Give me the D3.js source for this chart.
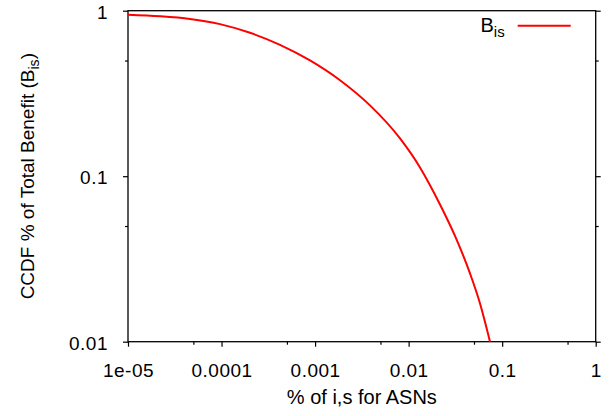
<!DOCTYPE html>
<html>
<head>
<meta charset="utf-8">
<script src="https://cdn.jsdelivr.net/npm/d3@7"></script>
<style>
  body { margin: 0; background: #fff; }
  text { font-family: "Liberation Sans", Arial, sans-serif; fill: #000; }
</style>
</head>
<body>
<div id="chart"></div>
<script>
// data (fraction of i,s vs CCDF)
var xVals = [1e-5, 2.198e-5, 4.6e-5, 9.63e-5, 2.015e-4, 4.217e-4, 8.826e-4, 1.847e-3, 3.865e-3, 8.091e-3, 1.323e-2, 2.165e-2, 3.131e-2, 4.531e-2, 5.797e-2, 7.413e-2];
var yVals = [0.9459, 0.925, 0.8909, 0.8299, 0.7355, 0.6223, 0.5008, 0.3802, 0.2678, 0.1692, 0.113, 0.0675, 0.04357, 0.02586, 0.01703, 0.01];
var xTicks = [1e-5, 1e-4, 1e-3, 1e-2, 1e-1, 1];
var xTickLabels = ["1e-05", "0.0001", "0.001", "0.01", "0.1", "1"];
var xMinor = [5e-5, 5e-4, 5e-3, 5e-2, 5e-1];
var yTicks = [0.01, 0.1, 1];
var yTickLabels = ["0.01", "0.1", "1"];
var yMinor = [0.05, 0.5];
var seriesName = "B";
var seriesSub = "is";

var svgWidth = 615, svgHeight = 416;
var margin = { top: 10.7, right: 19.3, bottom: 74.3, left: 128 };
var width = svgWidth - margin.left - margin.right;
var height = svgHeight - margin.top - margin.bottom;

var svg = d3.select("#chart").append("svg")
    .attr("width", svgWidth)
    .attr("height", svgHeight);

var g = svg.append("g")
    .attr("transform", `translate(${margin.left}, ${margin.top})`);

var x = d3.scaleLog().domain([1e-5, 1]).range([0, width]);
var y = d3.scaleLog().domain([0.01, 1]).range([height, 0]);

// bottom axis, majors with labels
var bottom = g.append("g")
    .attr("transform", `translate(0, ${height})`)
    .call(d3.axisBottom(x).tickValues(xTicks).tickSize(5)
        .tickFormat((d, i) => xTickLabels[i]));
bottom.select(".domain").remove();
bottom.selectAll("text")
    .attr("font-size", 19)
    .attr("font-family", "Liberation Sans, Arial, sans-serif")
    .attr("letter-spacing", 0.5)
    .attr("y", 35)
    .attr("dy", 0);
// bottom minor ticks
var bottomMinor = g.append("g")
    .attr("transform", `translate(0, ${height})`)
    .call(d3.axisBottom(x).tickValues(xMinor).tickSize(3).tickFormat(""));
bottomMinor.select(".domain").remove();

// left axis
var left = g.append("g")
    .call(d3.axisLeft(y).tickValues(yTicks).tickSize(5).tickPadding(15)
        .tickFormat((d, i) => yTickLabels[i]));
left.select(".domain").remove();
left.selectAll("text")
    .attr("font-size", 19)
    .attr("font-family", "Liberation Sans, Arial, sans-serif")
    .attr("letter-spacing", 0.5)
    .attr("dy", "0.39em");
var leftMinor = g.append("g")
    .call(d3.axisLeft(y).tickValues(yMinor).tickSize(3).tickFormat(""));
leftMinor.select(".domain").remove();

// right axis (mirror ticks, outward, no labels)
var right = g.append("g")
    .attr("transform", `translate(${width}, 0)`)
    .call(d3.axisRight(y).tickValues(yTicks).tickSize(5).tickFormat(""));
right.select(".domain").remove();
var rightMinor = g.append("g")
    .attr("transform", `translate(${width}, 0)`)
    .call(d3.axisRight(y).tickValues(yMinor).tickSize(3).tickFormat(""));
rightMinor.select(".domain").remove();

g.selectAll(".tick line").attr("stroke", "#000").attr("stroke-width", 1.2);

// frame
g.append("rect")
    .attr("x", 0).attr("y", 0)
    .attr("width", width).attr("height", height)
    .attr("fill", "none")
    .attr("stroke", "#000")
    .attr("stroke-width", 1.3);

// curve
var pts = xVals.map((d, i) => [d, yVals[i]]);
var line = d3.line()
    .x(d => x(d[0]))
    .y(d => y(d[1]))
    .curve(d3.curveMonotoneX);
g.append("path")
    .datum(pts)
    .attr("fill", "none")
    .attr("stroke", "#ff0000")
    .attr("stroke-width", 2)
    .attr("d", line);

// legend
var leg = g.append("g").attr("transform", `translate(${width - 78}, 15)`);
leg.append("line")
    .attr("x1", 0).attr("x2", 53)
    .attr("y1", 0).attr("y2", 0)
    .attr("stroke", "#ff0000")
    .attr("stroke-width", 2);
var legText = leg.append("text")
    .attr("x", -13).attr("y", 6)
    .attr("text-anchor", "end")
    .attr("font-size", 20);
legText.append("tspan").text(seriesName);
legText.append("tspan").attr("dy", 5).attr("font-size", 15).text(seriesSub);

// axis labels
svg.append("text")
    .attr("x", margin.left + width / 2)
    .attr("y", 404)
    .attr("text-anchor", "middle")
    .attr("font-size", 20)
    .text("% of i,s for ASNs");

var yLab = svg.append("text")
    .attr("transform", `translate(34, ${margin.top + height / 2}) rotate(-90)`)
    .attr("text-anchor", "middle")
    .attr("font-size", 19);
yLab.append("tspan").text("CCDF % of Total Benefit (B");
yLab.append("tspan").attr("dy", 5).attr("font-size", 14).text("is");
yLab.append("tspan").attr("dy", -5).text(")");
</script>
</body>
</html>
